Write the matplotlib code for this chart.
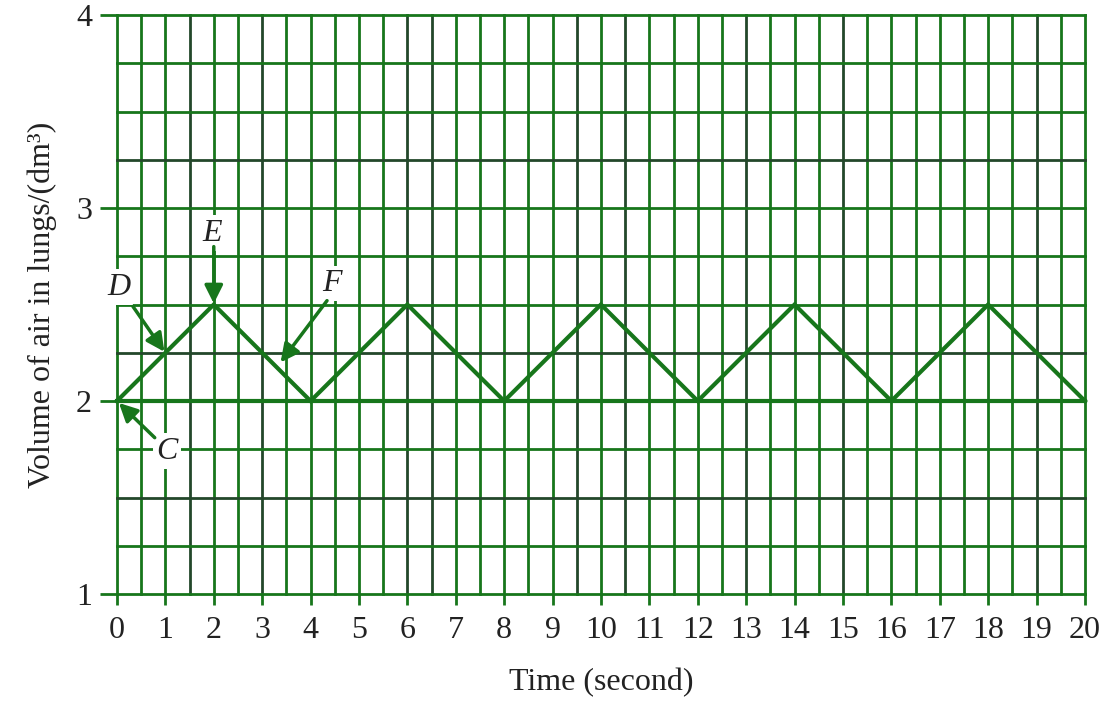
import numpy as np
import matplotlib
matplotlib.use('Agg')
import matplotlib.pyplot as plt

# Datos
tiempo_s = [0, 2, 4, 6, 8, 10, 12, 14, 16, 18, 20]
volumen_dm3 = [2.0, 2.5, 2.0, 2.5, 2.0, 2.5, 2.0, 2.5, 2.0, 2.5, 2.0]
x_ticks = list(range(0, 21))
y_ticks = [1, 2, 3, 4]

# Etiquetas de puntos: (texto, pos. texto, punta de flecha, cola)
puntos = [
    ('C', (1.03, 1.74), (0.04, 1.99), (0.78, 1.81)),
    ('D', (0.03, 2.59), (0.98, 2.255), (0.33, 2.49)),
    ('E', (1.96, 2.87), (2.0, 2.505), (2.0, 2.80)),
    ('F', (4.45, 2.61), (3.38, 2.20), (4.34, 2.52)),
]

verde = '#17761b'
verde_osc = '#23472a'
texto = '#222222'
lineas_oscuras_x = [1.5, 3, 6, 6.5, 9.5, 10.5, 13, 15, 19]
lineas_oscuras_y = [3.25, 2.25, 1.5]

plt.rcParams['font.family'] = ['Liberation Serif', 'DejaVu Serif']

fig = plt.figure(figsize=(11.13, 7.09), dpi=100)
ax = fig.add_axes([0.1051, 0.1622, 0.8697, 0.8166])
ax.set_xlim(0, 20)
ax.set_ylim(1, 4)

# Cuadrícula
for xv in np.arange(0, 20.01, 0.5):
    c = verde_osc if xv in lineas_oscuras_x else verde
    ax.axvline(xv, color=c, lw=2.0, clip_on=False, zorder=1)
for yv in np.arange(1, 4.01, 0.25):
    c = verde_osc if yv in lineas_oscuras_y else verde
    ax.axhline(yv, color=c, lw=3.0 if yv == 2 else 2.0, clip_on=False, zorder=1)

# Curva
ax.plot(tiempo_s, volumen_dm3, color=verde, lw=3.0, solid_joinstyle='miter',
        zorder=3, clip_on=False)

# Etiquetas con flechas
for txt, pos, punta, cola in puntos:
    ax.text(pos[0], pos[1], txt, fontsize=23, style='italic', color=texto,
            ha='center', va='center', zorder=4,
            bbox=dict(boxstyle='square,pad=0.1', fc='white', ec='none'))
    ax.annotate('', xy=punta, xytext=cola,
                arrowprops=dict(arrowstyle='-|>,head_length=1.1,head_width=0.55',
                                color=verde, lw=2.5, shrinkA=0, shrinkB=0),
                zorder=5)

for s in ax.spines.values():
    s.set_visible(False)

ax.set_xticks(x_ticks)
ax.set_yticks(y_ticks)
ax.tick_params(axis='x', length=8, width=2, color=verde, pad=8,
               labelsize=23, labelcolor=texto)
ax.tick_params(axis='y', length=12, width=2, color=verde, pad=6,
               labelsize=23, labelcolor=texto)

ax.set_xlabel('Time (second)', fontsize=23, color=texto, labelpad=16)
ax.set_ylabel('Volume of air in lungs/(dm³)', fontsize=23, color=texto,
              labelpad=14)

fig.savefig('out.png', dpi=100)
